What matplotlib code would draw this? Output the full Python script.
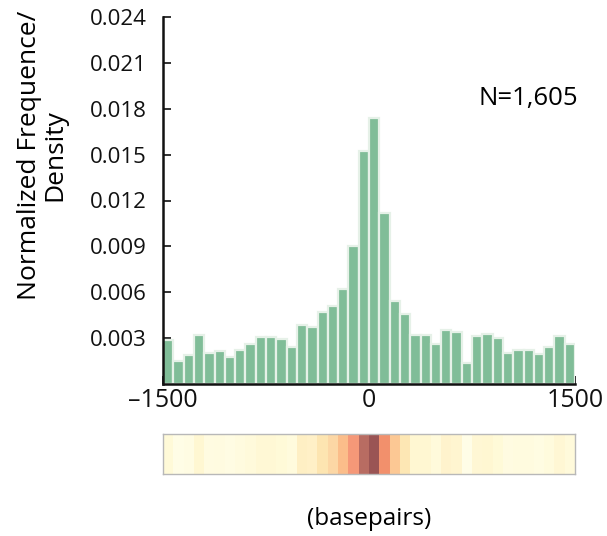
import matplotlib
matplotlib.use("Agg")
import matplotlib.pyplot as plt
import numpy as np
from matplotlib.colors import LinearSegmentedColormap

# Data
bin_edges = np.linspace(-1500, 1500, 41)
density = [0.00287, 0.00150, 0.00189, 0.00320, 0.00204, 0.00217, 0.00178, 0.00222,
           0.00259, 0.00309, 0.00309, 0.00296, 0.00243, 0.00389, 0.00374, 0.00472,
           0.00511, 0.00620, 0.00900, 0.01526, 0.01737, 0.01120, 0.00541, 0.00461,
           0.00320, 0.00320, 0.00259, 0.00352, 0.00337, 0.00135, 0.00313, 0.00324,
           0.00298, 0.00204, 0.00222, 0.00222, 0.00193, 0.00243, 0.00313, 0.00259]
yticks = [0.003, 0.006, 0.009, 0.012, 0.015, 0.018, 0.021, 0.024]
ytick_labels = ["0.003", "0.006", "0.009", "0.012", "0.015", "0.018", "0.021", "0.024"]
xticks = [-1500, -750, 0, 750, 1500]
xtick_labels = ["\u20131500", "", "0", "", "1500"]
n_label = "N=1,605"

plt.rcParams['font.family'] = ['Open Sans', 'DejaVu Sans']

W, H = 607, 536
fig = plt.figure(figsize=(W / 100, H / 100), dpi=100)

ax = fig.add_axes([163 / W, 1 - 384 / H, (575 - 163) / W, (384 - 17) / H])
centers = (bin_edges[:-1] + bin_edges[1:]) / 2
width = bin_edges[1] - bin_edges[0]
ax.bar(centers, density, width=width, color="#80bd98", edgecolor="#e6f1e8",
       linewidth=1.6, zorder=2)
ax.set_xlim(-1500, 1500)
ax.set_ylim(0, 0.024)
ax.set_yticks(yticks)
ax.set_yticklabels(ytick_labels, fontsize=16)
ax.set_xticks(xticks)
ax.set_xticklabels(xtick_labels, fontsize=18)
ax.tick_params(axis='y', direction='in', length=6, width=1.2, pad=12, colors='#111111')
ax.tick_params(axis='x', direction='in', length=6, width=1.2, pad=3, colors='#111111')
for s in ['top', 'right']:
    ax.spines[s].set_visible(False)
for s in ['left', 'bottom']:
    ax.spines[s].set_linewidth(1.8)
    ax.spines[s].set_color('#111111')
fig.text(42 / W, 1 - 155 / H, "Normalized Frequence/\nDensity", rotation=90,
         ha='center', va='center', multialignment='center', fontsize=19, linespacing=1.0)
fig.text(578 / W, 1 - 98 / H, n_label, ha='right', va='center', fontsize=18.5)

# heat strip
dens = np.array(density)
vmax = max(density)
cmap = LinearSegmentedColormap.from_list(
    "strip", [(0.0, "#fffeec"), (0.09, "#fffde6"), (0.17, "#fffad8"), (0.22, "#fff0c6"),
              (0.27, "#fde6b2"), (0.29, "#fddcaa"), (0.31, "#fcc894"), (0.36, "#fbbd8a"),
              (0.52, "#f59878"), (0.65, "#f2906c"), (0.88, "#b86c62"), (1.0, "#9a5454")])
sax = fig.add_axes([163 / W, 1 - 474 / H, (575 - 163) / W, (474 - 434) / H])
sax.imshow(dens[np.newaxis, :], cmap=cmap, aspect='auto', interpolation='nearest',
           extent=[-1500, 1500, 0, 1], vmin=0, vmax=vmax)
sax.set_xticks([])
sax.set_yticks([])
for s in sax.spines.values():
    s.set_color("#b8b8b8")
    s.set_linewidth(1.0)
fig.text(369 / W, 1 - 519 / H, "(basepairs)", ha='center', va='center', fontsize=17.5)

fig.savefig("out.png", dpi=100)
